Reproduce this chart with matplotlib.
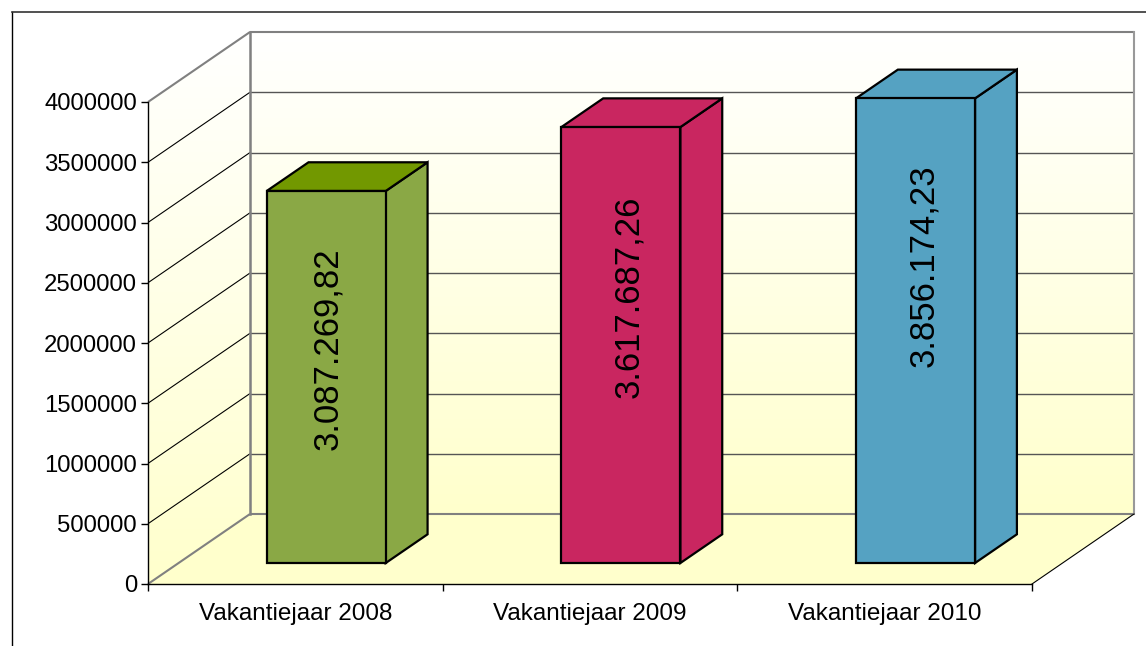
import matplotlib
matplotlib.use("Agg")
import matplotlib.pyplot as plt
from matplotlib.lines import Line2D
from matplotlib.patches import Polygon
import numpy as np

# data
categories = ["Vakantiejaar 2008", "Vakantiejaar 2009", "Vakantiejaar 2010"]
values = [3087269.82, 3617687.26, 3856174.23]
value_labels = ["3.087.269,82", "3.617.687,26", "3.856.174,23"]
y_ticks = [0, 500000, 1000000, 1500000, 2000000, 2500000, 3000000, 3500000, 4000000]

front_colors = ["#8AA845", "#C92660", "#55A2C2"]
top_colors = ["#729800", "#C92660", "#55A2C2"]

W, H = 1146, 646
plt.rcParams["font.family"] = ["Liberation Sans", "DejaVu Sans"]
fig = plt.figure(figsize=(W / 100, H / 100), dpi=100, facecolor="white")

# axes is the front plane of the 3D box
ax = fig.add_axes([148 / W, 1 - 584 / H, 884 / W, 482 / H])
ax.patch.set_visible(False)
ymax = 4000000

# shift of one full depth unit, in data units
dx = 102 / 884 * 3
dy = 70 / 482 * ymax


def p(x, y, d=0):
    return (x + dx * d, y + dy * d)


def wall(points, z):
    # light yellow at the floor, white at the top
    ys = [q[1] for q in points]
    xs = [q[0] for q in points]
    grad = np.linspace(0, 1, 256).reshape(-1, 1)
    cols = np.ones((256, 1, 4))
    cols[..., 2] = 0.8 + 0.2 * grad
    im = ax.imshow(cols, origin="lower", aspect="auto", zorder=z,
                   extent=[min(xs), max(xs), min(ys), max(ys)])
    clip = Polygon(points, transform=ax.transData, fc="none", ec="none")
    im.set_clip_path(clip)
    im.set_clip_box(fig.bbox)


wall([p(0, 0, 0), p(0, 0, 1), p(0, ymax, 1), p(0, ymax, 0)], 1)
wall([p(0, 0, 1), p(3, 0, 1), p(3, ymax, 1), p(0, ymax, 1)], 1)
ax.set_xlim(0, 3)
ax.set_ylim(0, ymax)

ax.add_patch(Polygon([p(0, 0, 0), p(3, 0, 0), p(3, 0, 1), p(0, 0, 1)],
                     fc="#FFFFCC", ec="none", zorder=1.5, clip_on=False))

# gridlines, on left wall and back wall
for t in y_ticks:
    edge = t == 0 or t == ymax
    xs, ys = zip(p(0, t, 0), p(0, t, 1))
    ax.plot(xs, ys, color="#808080" if edge else "black", lw=1.5 if edge else 0.8,
            zorder=2, clip_on=False, solid_capstyle="butt")
    xs, ys = zip(p(0, t, 1), p(3, t, 1))
    ax.plot(xs, ys, color="#808080" if edge else "#555555", lw=1.5 if edge else 1.0,
            zorder=2, clip_on=False, solid_capstyle="butt")
xs, ys = zip(p(0, 0, 1), p(0, ymax, 1))
ax.plot(xs, ys, color="#808080", lw=1.8, zorder=2.1, clip_on=False)
xs, ys = zip(p(3, 0, 1), p(3, ymax, 1))
ax.plot(xs, ys, color="#999999", lw=1.5, zorder=2.1, clip_on=False)
xs, ys = zip(p(3, 0, 0), p(3, 0, 1))
ax.plot(xs, ys, color="black", lw=0.8, zorder=2.1, clip_on=False)

# bars
bar_w = 0.404
d0, d1 = 0.3, 0.71
label_frac = [0.576, 0.61, 0.639]
label_shift = [0.007, 0.027, 0.027]
for i, v in enumerate(values):
    x0 = i + 0.299
    x1 = x0 + bar_w
    kw = dict(ec="black", lw=1.6, joinstyle="miter", clip_on=False, zorder=3)
    ax.add_patch(Polygon([p(x1, 0, d0), p(x1, 0, d1), p(x1, v, d1), p(x1, v, d0)],
                         fc=front_colors[i], **kw))
    ax.add_patch(Polygon([p(x0, v, d0), p(x1, v, d0), p(x1, v, d1), p(x0, v, d1)],
                         fc=top_colors[i], **kw))
    ax.add_patch(Polygon([p(x0, 0, d0), p(x1, 0, d0), p(x1, v, d0), p(x0, v, d0)],
                         fc=front_colors[i], **kw))
    lx, ly = p(i + 0.5 + label_shift[i], v * label_frac[i], d0)
    ax.text(lx, ly, value_labels[i], rotation=90, ha="center", va="center",
            fontsize=25, color="black", zorder=4)

# axes lines and ticks
for s in ["top", "right"]:
    ax.spines[s].set_visible(False)
for s in ["left", "bottom"]:
    ax.spines[s].set_linewidth(1.0)
    ax.spines[s].set_zorder(5)
ax.set_yticks(y_ticks)
ax.set_yticklabels([str(t) for t in y_ticks], fontsize=17.2)
ax.set_xticks([0, 1, 2, 3])
ax.set_xticklabels([])
ax.set_xticks([0.5, 1.5, 2.5], categories, minor=True, fontsize=17.5)
ax.tick_params(axis="x", which="minor", length=0, pad=14)
ax.tick_params(axis="x", which="major", length=5, width=1)
ax.tick_params(axis="y", length=5, width=1, pad=3)

# outer chart frame, cut by the image edge
fig.add_artist(Line2D([12 / W, 12 / W], [0, 1 - 12 / H], color="black", lw=1.0))
fig.add_artist(Line2D([12 / W, 1], [1 - 12 / H, 1 - 12 / H], color="#333333", lw=1.2))

fig.savefig("out.png", dpi=100)
